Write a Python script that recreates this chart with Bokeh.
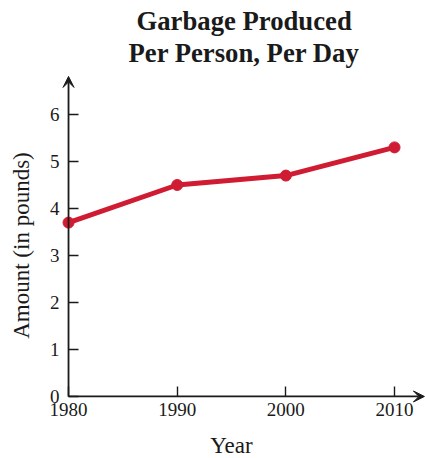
from bokeh.plotting import figure
from bokeh.models import Range1d, FixedTicker, Arrow, VeeHead, Title
from bokeh.embed import file_html
from bokeh.resources import INLINE

years = [1980, 1990, 2000, 2010]
amounts = [3.7, 4.5, 4.7, 5.3]
x_ticks = [1980, 1990, 2000, 2010]
y_ticks = [0, 1, 2, 3, 4, 5, 6]
title_lines = ["Garbage Produced", "Per Person, Per Day"]
x_label = "Year"
y_label = "Amount (in pounds)"

RED = "#d01c32"
INK = "#1a1a1a"
FONT = "Liberation Serif"

# the frame covers the whole area below the title; the axes sit at fixed
# positions inside it so that nothing (arrowheads, markers, labels) is clipped
x_lo, x_hi = 1973.74, 2012.85
y_lo, y_hi = -1.32, 7.0
x_arrow_end = 2012.75
y_arrow_end = 6.81

p = figure(width=425, height=458, output_backend="svg", toolbar_location=None,
           title_location=None,
           x_range=Range1d(x_lo, x_hi), y_range=Range1d(y_lo, y_hi),
           min_border_left=0, min_border_right=0, min_border_top=67, min_border_bottom=0)

# two centred title lines (added closest-to-frame first)
for txt, off in ((title_lines[1], 128), (title_lines[0], 136)):
    p.add_layout(Title(text=txt, align="left", offset=off, standoff=0,
                       text_font=FONT, text_font_size="26.7px", text_font_style="bold",
                       text_color=INK), "above")

p.outline_line_color = None
p.background_fill_color = None
p.border_fill_color = "white"
p.grid.visible = False

for ax in (p.xaxis[0], p.yaxis[0]):
    ax.axis_line_color = None
    ax.major_tick_line_color = INK
    ax.major_tick_line_width = 1.4
    ax.major_tick_in = 10
    ax.major_tick_out = 0
    ax.minor_tick_line_color = None
    ax.major_label_text_font = FONT
    ax.major_label_text_font_size = "19px"
    ax.major_label_text_color = INK
    ax.axis_label_text_font = FONT
    ax.axis_label_text_font_size = "23px"
    ax.axis_label_text_font_style = "normal"
    ax.axis_label_text_color = INK

p.xaxis.fixed_location = 0
p.yaxis.fixed_location = 1980
p.xaxis.bounds = (1980, 2010)
p.yaxis.bounds = (0, 6.43)
p.xaxis.ticker = FixedTicker(ticks=x_ticks)
p.yaxis.ticker = FixedTicker(ticks=y_ticks)
p.xaxis.axis_label = x_label
p.yaxis.axis_label = y_label
p.xaxis.major_label_standoff = 7
p.xaxis.axis_label_standoff = 13
p.yaxis.major_label_standoff = 9
p.yaxis.axis_label_standoff = 13

# axis lines with arrowheads
p.add_layout(Arrow(end=VeeHead(size=11, fill_color=INK, line_color=INK, line_width=1),
                   line_color=INK, line_width=1.8,
                   x_start=1980, y_start=0, x_end=x_arrow_end, y_end=0))
p.add_layout(Arrow(end=VeeHead(size=11, fill_color=INK, line_color=INK, line_width=1),
                   line_color=INK, line_width=1.8,
                   x_start=1980, y_start=0, x_end=1980, y_end=y_arrow_end))

p.line(years, amounts, line_width=5, line_color=RED)
p.scatter(years, amounts, size=11, fill_color=RED, line_color=RED)

open("out.html", "w").write(file_html(p, INLINE))
